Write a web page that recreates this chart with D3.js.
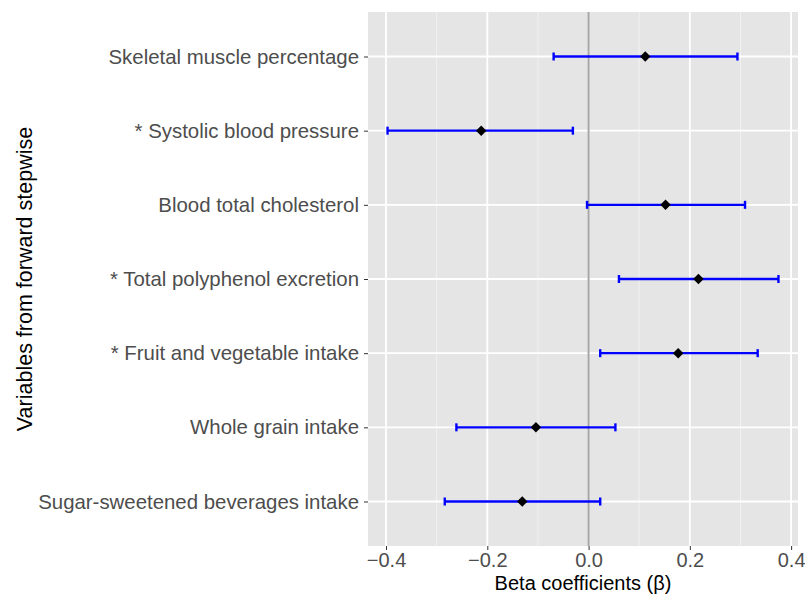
<!DOCTYPE html>
<meta charset="utf-8">
<script src="https://d3js.org/d3.v7.min.js"></script>
<style>
  body { margin: 0; background: #fff; }
  text { font-family: "Liberation Sans", Arial, sans-serif; }
</style>
<svg></svg>
<script>

// DATA

var variables = [
  "Skeletal muscle percentage",
  "* Systolic blood pressure",
  "Blood total cholesterol",
  "* Total polyphenol excretion",
  "* Fruit and vegetable intake",
  "Whole grain intake",
  "Sugar-sweetened beverages intake"
];
var beta  = [0.112, -0.212, 0.152, 0.217, 0.177, -0.104, -0.131];
var lower = [-0.069, -0.397, -0.003, 0.060, 0.023, -0.261, -0.284];
var upper = [0.294, -0.031, 0.309, 0.375, 0.334, 0.053, 0.023];
var xTicks = [-0.4, -0.2, 0.0, 0.2, 0.4];
var xMinor = [-0.3, -0.1, 0.1, 0.3];

var rows = variables.map(function(v, i) {
  return { name: v, beta: beta[i], lo: lower[i], hi: upper[i] };
});

// GLOBALS

var width = 805;
var height = 598;
var panel = { left: 368, right: 798, top: 12, bottom: 546 };

var svg = d3.select("svg")
    .attr("width", width)
    .attr("height", height);

// SCALES (ggplot-like 5% expansion)

var lo = d3.min(lower), hi = d3.max(upper), pad = (hi - lo) * 0.05;

var xScale = d3.scaleLinear()
    .domain([lo - pad, hi + pad])
    .range([panel.left, panel.right]);

var yScale = d3.scalePoint()
    .domain(variables)
    .range([panel.top, panel.bottom])
    .padding(0.6);

// PANEL

svg.append("rect")
    .attr("x", panel.left)
    .attr("y", panel.top)
    .attr("width", panel.right - panel.left)
    .attr("height", panel.bottom - panel.top)
    .attr("fill", "#e5e5e5");

svg.append("g").selectAll("line")
    .data(xMinor)
    .enter().append("line")
    .attr("x1", function(d) { return xScale(d); })
    .attr("x2", function(d) { return xScale(d); })
    .attr("y1", panel.top)
    .attr("y2", panel.bottom)
    .attr("stroke", "#f2f2f2")
    .attr("stroke-width", 0.9);

svg.append("g").selectAll("line")
    .data(xTicks)
    .enter().append("line")
    .attr("x1", function(d) { return xScale(d); })
    .attr("x2", function(d) { return xScale(d); })
    .attr("y1", panel.top)
    .attr("y2", panel.bottom)
    .attr("stroke", "#fff")
    .attr("stroke-width", 1.8);

svg.append("g").selectAll("line")
    .data(variables)
    .enter().append("line")
    .attr("x1", panel.left)
    .attr("x2", panel.right)
    .attr("y1", function(d) { return yScale(d); })
    .attr("y2", function(d) { return yScale(d); })
    .attr("stroke", "#fff")
    .attr("stroke-width", 1.8);

// zero reference line
svg.append("line")
    .attr("x1", xScale(0))
    .attr("x2", xScale(0))
    .attr("y1", panel.top)
    .attr("y2", panel.bottom)
    .attr("stroke", "#a6a6a6")
    .attr("stroke-width", 2);

// AXES

var xAxis = svg.append("g")
    .attr("transform", "translate(0," + panel.bottom + ")")
    .call(d3.axisBottom(xScale)
        .tickValues(xTicks)
        .tickSize(4)
        .tickPadding(3)
        .tickFormat(function(d) { return d3.format(".1f")(d).replace("-", "\u2212"); }));

var yAxis = svg.append("g")
    .attr("transform", "translate(" + panel.left + ",0)")
    .call(d3.axisLeft(yScale).tickSize(4).tickPadding(5));

[xAxis, yAxis].forEach(function(ax) {
  ax.select(".domain").remove();
  ax.selectAll(".tick line").attr("stroke", "#333").attr("stroke-width", 1);
  ax.selectAll(".tick text")
      .attr("fill", "#4d4d4d")
      .style("font-size", "20px")
      .style("font-family", "Liberation Sans, Arial, sans-serif");
});

yAxis.selectAll(".tick text").style("font-size", "20.4px");

// ERROR BARS

var bars = svg.append("g").selectAll("g")
    .data(rows)
    .enter().append("g");

bars.append("line")
    .attr("x1", function(d) { return xScale(d.lo); })
    .attr("x2", function(d) { return xScale(d.hi); })
    .attr("y1", function(d) { return yScale(d.name); })
    .attr("y2", function(d) { return yScale(d.name); })
    .attr("stroke", "#0000ff")
    .attr("stroke-width", 2.4);

["lo", "hi"].forEach(function(k) {
  bars.append("line")
      .attr("x1", function(d) { return xScale(d[k]); })
      .attr("x2", function(d) { return xScale(d[k]); })
      .attr("y1", function(d) { return yScale(d.name) - 4; })
      .attr("y2", function(d) { return yScale(d.name) + 4; })
      .attr("stroke", "#0000ff")
      .attr("stroke-width", 2.4);
});

bars.append("path")
    .attr("transform", function(d) {
      return "translate(" + xScale(d.beta) + "," + yScale(d.name) + ")";
    })
    .attr("d", d3.symbol().type(d3.symbolDiamond2).size(70))
    .attr("fill", "#000");

// TITLES

svg.append("text")
    .attr("x", (panel.left + panel.right) / 2)
    .attr("y", 590)
    .attr("text-anchor", "middle")
    .style("font-size", "20px")
    .style("fill", "#000")
    .text("Beta coefficients (\u03b2)");

svg.append("text")
    .attr("transform", "translate(32," + (panel.top + panel.bottom) / 2 + ") rotate(-90)")
    .attr("text-anchor", "middle")
    .style("font-size", "21.5px")
    .style("fill", "#000")
    .text("Variables from forward stepwise");

</script>
